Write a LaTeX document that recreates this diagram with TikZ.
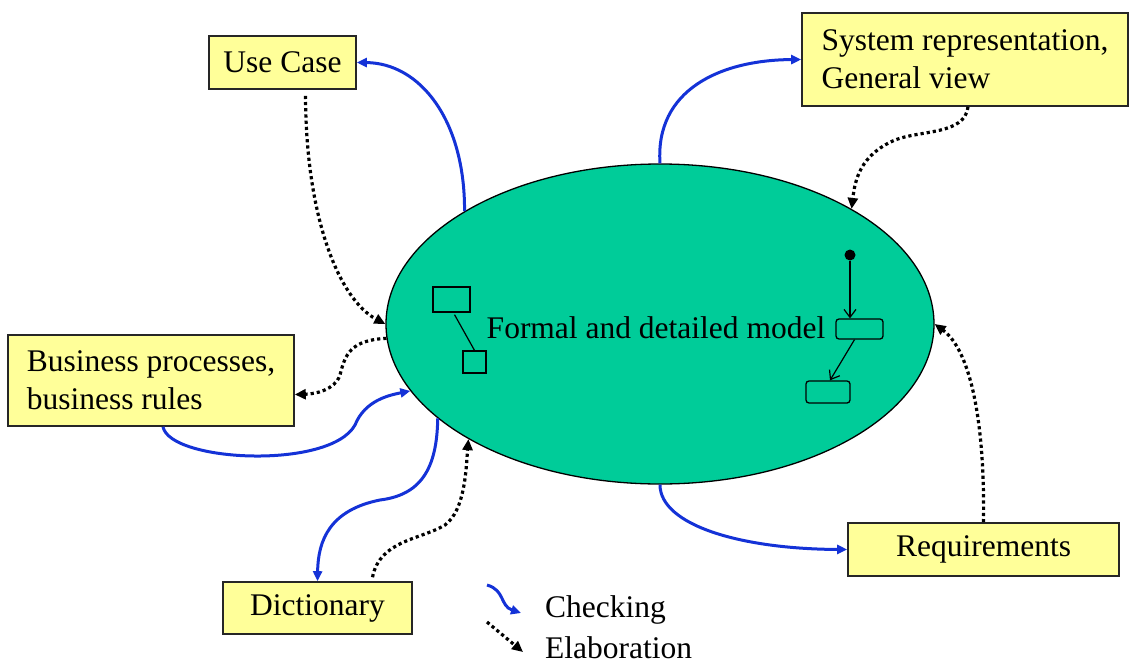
\documentclass[tikz,border=0pt]{standalone}
\usepackage{fontspec}
\setmainfont{Liberation Serif}
\usetikzlibrary{shapes.geometric,arrows.meta,calc}
\definecolor{boxyellow}{RGB}{255,255,153}
\definecolor{ellgreen}{RGB}{0,204,153}
\definecolor{chkblue}{RGB}{20,50,215}
\begin{document}
\begin{tikzpicture}[x=1pt,y=-1pt,
  txt/.style={font=\fontsize{31.5}{38}\selectfont},
  yb/.style={txt, draw=black!85, line width=1.6pt, fill=boxyellow, inner sep=0pt, align=left},
  chk/.style={draw=chkblue, line width=3pt, -{Triangle[length=10pt,width=9pt]}},
  elab/.style={draw=black, line width=3.2pt, dash pattern=on 3.2pt off 3pt, -{Triangle[length=11pt,width=10pt]}},
  smallbox/.style={draw=black, line width=1.3pt, inner sep=0pt, fill=ellgreen},
  inarrow/.style={draw=black, line width=1.2pt, -{Straight Barb[length=8pt,width=12pt]}},
]
\useasboundingbox (0,0) rectangle (1130,664);

% central ellipse
\node[ellipse, draw=black, line width=1.3pt, fill=ellgreen, minimum width=548pt, minimum height=320pt, inner sep=0pt] (ell) at (660,324) {};
\node[txt, anchor=base, inner sep=0pt] (lbl) at (656,338) {Formal and detailed model};

% inner small diagram
\node[smallbox, minimum width=37pt, minimum height=25pt] (r1) at (451.5,299.5) {};
\node[smallbox, minimum width=23pt, minimum height=22pt] (r2) at (474.5,362) {};
\draw[line width=1.2pt] ([xshift=3pt,yshift=-2pt]r1.south) -- (r2.north);
\node[circle, fill=black, minimum size=11pt, inner sep=0pt] (dot) at (850,255) {};
\node[smallbox, rounded corners=3pt, minimum width=47pt, minimum height=20pt] (r3) at (859.5,329) {};
\node[smallbox, rounded corners=3pt, minimum width=44pt, minimum height=22pt] (r4) at (828,392) {};
\draw[inarrow] (dot.south) -- (dot.south |- r3.north);
\draw[inarrow] ([xshift=-5pt]r3.south) -- ([xshift=2pt]r4.north);

% boxes
\node[yb, minimum width=147pt, minimum height=53pt] (uc) at (282.5,62.5) {Use Case};
\node[yb, minimum width=326pt, minimum height=93pt] (sys) at (965,59.5) {System representation,\\General view};
\node[yb, minimum width=286pt, minimum height=91pt] (bp) at (151,380.5) {Business processes,\\business rules};
\node[yb, minimum width=189pt, minimum height=52pt] (dic) at (317.5,608) {Dictionary};
\node[yb, minimum width=271pt, minimum height=53pt] (req) at (983.5,549.5) {Requirements};

% checking connectors
\draw[chk] (ell.150) .. controls (465,120) and (420,63) .. (uc.east);
\draw[chk] (ell.90) .. controls (655,90) and (720,60) .. (sys.west);
\draw[chk] ([xshift=12pt]bp.south) .. controls (170,462) and (330,470) .. (355,425) .. controls (365,400) and (390,395) .. (ell.195.6);
\draw[chk] (ell.203) .. controls (437,470) and (420,495) .. (380,500) .. controls (330,510) and (318,540) .. (dic.north);
\draw[chk] (ell.270) .. controls (660,525) and (740,549) .. (req.west);

% elaboration connectors
\draw[elab] ([xshift=23pt,yshift=-6pt]uc.south) .. controls (306,220) and (340,300) .. (ell.180);
\draw[elab] ([xshift=3pt]sys.south) .. controls (965,135) and (920,130) .. (895,140) .. controls (860,155) and (855,180) .. (ell.31);
\draw[elab] (ell.183) .. controls (350,340) and (345,355) .. (340,375) .. controls (335,390) and (315,394) .. ([yshift=-14pt]bp.east);
\draw[elab] ([xshift=55pt,yshift=4pt]dic.north) .. controls (380,540) and (420,540) .. (445,525) .. controls (465,510) and (466,470) .. (ell.211);
\draw[elab] (req.north) .. controls (985,420) and (970,350) .. (ell.0);

% legend
\coordinate (c1) at (487,585);
\coordinate (c2) at (521,613);
\draw[chk] (c1) .. controls (505,590) and (500,606) .. (c2);
\coordinate (e1) at (487,622);
\coordinate (e2) at (523,652);
\draw[elab] (e1) -- (e2);
\node[txt, anchor=base west, inner sep=0pt] (tc) at (545,617) {Checking};
\node[txt, anchor=base west, inner sep=0pt] (te) at (545,658) {Elaboration};
\end{tikzpicture}
\end{document}
